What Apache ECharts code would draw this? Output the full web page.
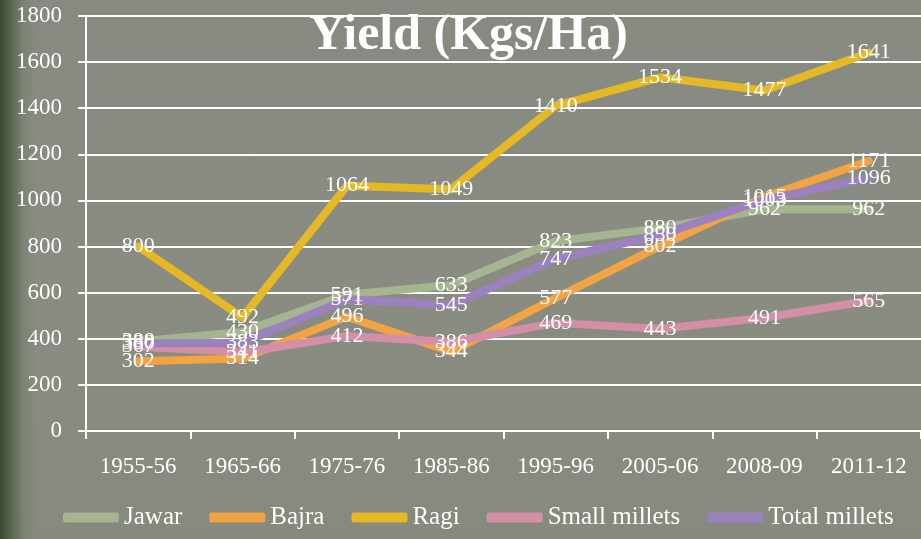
<!DOCTYPE html>
<html>
<head>
<meta charset="utf-8">
<script src="https://cdn.jsdelivr.net/npm/echarts@6/dist/echarts.min.js"></script>
<style>
  html, body { margin: 0; padding: 0; }
  body {
    width: 921px; height: 539px; overflow: hidden;
    background:
      linear-gradient(to right, rgba(55,70,45,0.95) 0px, rgba(75,90,65,0.7) 12px, rgba(105,115,95,0.3) 24px, rgba(0,0,0,0) 36px),
      linear-gradient(to bottom, #878a80 0%, #8a8c82 50%, #868a7e 100%);
  }
  #chart { width: 921px; height: 539px; }
</style>
</head>
<body>
<div id="chart"></div>
<script>
// yield in kgs per hectare
var years = ['1955-56', '1965-66', '1975-76', '1985-86', '1995-96', '2005-06', '2008-09', '2011-12'];
var jawar = [388, 430, 591, 633, 823, 880, 962, 962];
var bajra = [302, 314, 496, 344, 577, 802, 1015, 1171];
var ragi = [800, 492, 1064, 1049, 1410, 1534, 1477, 1641];
var smallMillets = [367, 341, 412, 386, 469, 443, 491, 565];
var totalMillets = [380, 383, 571, 545, 747, 850, 1003, 1096];

var serif = '"Liberation Serif", "DejaVu Serif", serif';

function line(name, data, color) {
  return {
    name: name,
    type: 'line',
    data: data,
    // tiny symbols so the value labels get drawn
    symbol: 'circle',
    symbolSize: 0.1,
    lineStyle: { color: color, width: 8, cap: 'round', join: 'round' },
    itemStyle: { color: color },
    label: {
      show: true,
      position: 'inside',
      offset: [2, 3],
      color: '#ffffff',
      fontFamily: serif,
      fontSize: 22
    },
    labelLayout: { hideOverlap: false },
    emphasis: { disabled: true }
  };
}

var chart = echarts.init(document.getElementById('chart'));
chart.setOption({
  animation: false,
  title: {
    text: 'Yield (Kgs/Ha)',
    left: 304,
    top: 6,
    textStyle: { color: '#ffffff', fontFamily: serif, fontWeight: 'bold', fontSize: 50 }
  },
  grid: { left: 86, right: -1, top: 16, bottom: 108 },
  legend: {
    bottom: 4,
    left: 58,
    icon: 'roundRect',
    itemWidth: 56,
    itemHeight: 10,
    itemGap: 27,
    textStyle: { color: '#ffffff', fontFamily: serif, fontSize: 25 },
    data: ['Jawar', 'Bajra', 'Ragi', 'Small millets', 'Total millets']
  },
  xAxis: {
    type: 'category',
    data: years,
    boundaryGap: true,
    axisLine: { lineStyle: { color: '#ffffff', width: 2 } },
    axisTick: { show: true, length: 8, lineStyle: { color: '#ffffff', width: 2 } },
    axisLabel: { color: '#ffffff', fontFamily: serif, fontSize: 23, margin: 24 }
  },
  yAxis: {
    type: 'value',
    min: 0,
    max: 1800,
    interval: 200,
    axisLine: { show: true, lineStyle: { color: '#ffffff', width: 2 } },
    axisTick: { show: true, length: 8, lineStyle: { color: '#ffffff', width: 2 } },
    splitLine: { lineStyle: { color: '#ffffff', width: 2 } },
    axisLabel: {
      color: '#ffffff', fontFamily: serif, fontSize: 23, margin: 24,
      formatter: function (v) { return String(v); }
    }
  },
  series: [
    line('Jawar', jawar, '#a5b58f'),
    line('Bajra', bajra, '#f2a344'),
    line('Small millets', smallMillets, '#d38fa5'),
    line('Total millets', totalMillets, '#9c81c1'),
    line('Ragi', ragi, '#e5b925')
  ]
});
</script>
</body>
</html>
